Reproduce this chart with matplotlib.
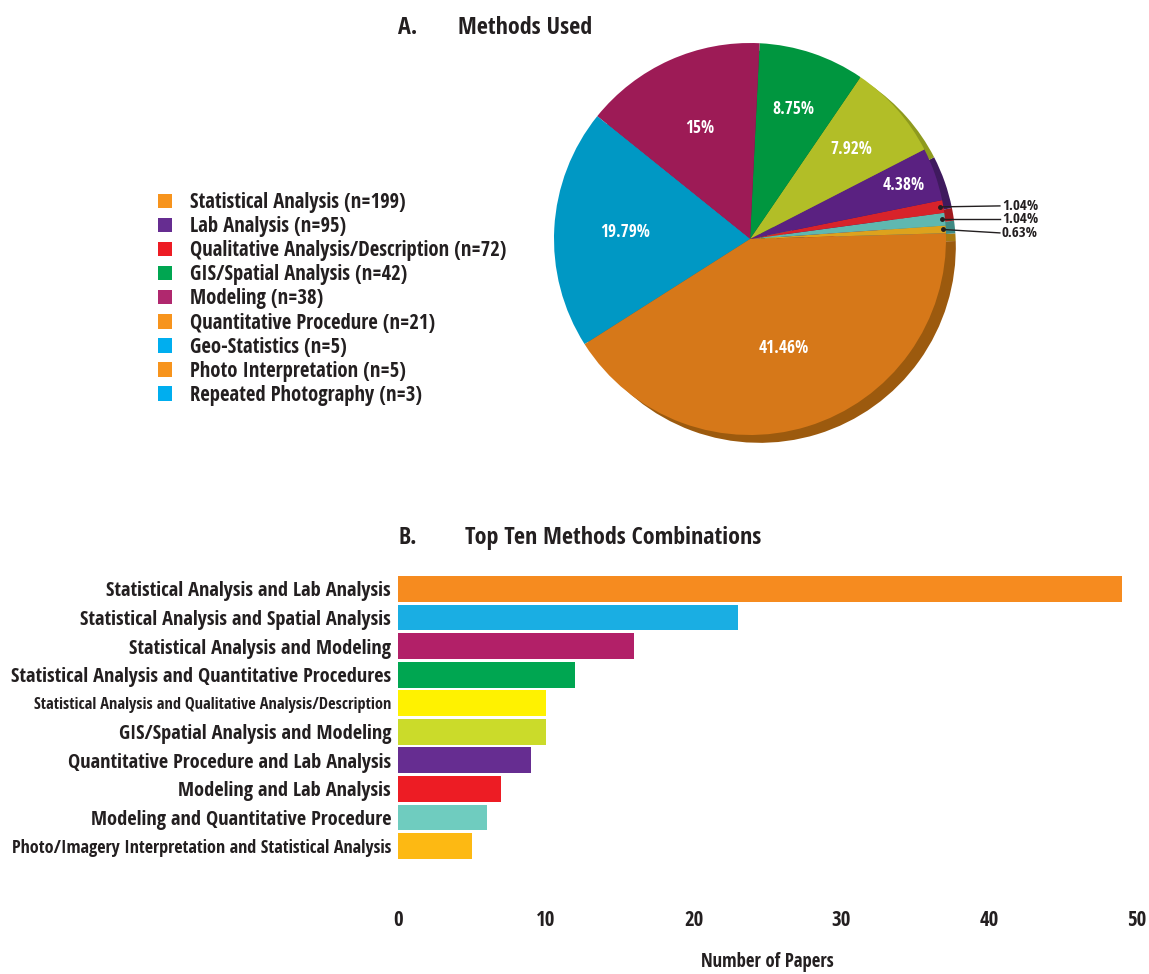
import matplotlib
matplotlib.use('Agg')
import matplotlib.pyplot as plt
from matplotlib.patches import Patch
import numpy as np

FONT = ['Open Sans Condensed', 'DejaVu Sans']
plt.rcParams['font.family'] = FONT
plt.rcParams['font.weight'] = 'bold'
TXT = '#231f20'

# ---------------- data ----------------
legend_labels = ['Statistical Analysis (n=199)', 'Lab Analysis (n=95)',
                 'Qualitative Analysis/Description (n=72)', 'GIS/Spatial Analysis (n=42)',
                 'Modeling (n=38)', 'Quantitative Procedure (n=21)', 'Geo-Statistics (n=5)',
                 'Photo Interpretation (n=5)', 'Repeated Photography (n=3)']
legend_colors = ['#f7941d', '#662d91', '#ed1c24', '#00a651', '#b0286e',
                 '#f7941d', '#00aeef', '#f7941d', '#00aeef']

pie_values = [3, 5, 5, 21, 38, 42, 72, 95, 199]
pie_pct_labels = ['0.63%', '1.04%', '1.04%', '4.38%', '7.92%', '8.75%', '15%', '19.79%', '41.46%']
pie_colors = ['#dda21d', '#5fb8b0', '#d8232a', '#5a2181', '#b2be27',
              '#00963f', '#9d1b56', '#0098c4', '#d67819']
pie_shadow_colors = ['#a87a12', '#3e8a84', '#a01a1e', '#3f1a5e', '#8e9a1e',
                     '#00662b', '#6d123c', '#006a88', '#9c5a0e']

bar_categories = ['Statistical Analysis and Lab Analysis',
                  'Statistical Analysis and Spatial Analysis',
                  'Statistical Analysis and Modeling',
                  'Statistical Analysis and Quantitative Procedures',
                  'Statistical Analysis and Qualitative Analysis/Description',
                  'GIS/Spatial Analysis and Modeling',
                  'Quantitative Procedure and Lab Analysis',
                  'Modeling and Lab Analysis',
                  'Modeling and Quantitative Procedure',
                  'Photo/Imagery Interpretation and Statistical Analysis']
bar_values = [49, 23, 16, 12, 10, 10, 9, 7, 6, 5]
bar_colors = ['#f68b1f', '#1aaee3', '#b22068', '#00a651', '#fff200',
              '#cbdb2a', '#662d91', '#ed1c24', '#6fccbf', '#fdb913']
x_ticks = [0, 10, 20, 30, 40, 50]

# ---------------- figure ----------------
W, H = 1149, 974
fig = plt.figure(figsize=(W / 100, H / 100), dpi=100)


def px_axes(x0, y0, x1, y1):
    return fig.add_axes([x0 / W, 1 - y1 / H, (x1 - x0) / W, (y1 - y0) / H])


# titles
fig.text(398 / W, 1 - 28 / H, 'A.', fontsize=17.3, color=TXT, va='center', ha='left')
fig.text(458 / W, 1 - 28 / H, 'Methods Used', fontsize=17.3, color=TXT, va='center', ha='left')
fig.text(398 / W, 1 - 538 / H, 'B.', fontsize=17.3, color=TXT, va='center', ha='left')
fig.text(465 / W, 1 - 538 / H, 'Top Ten Methods Combinations', fontsize=17.3, color=TXT,
         va='center', ha='left')

# ---------------- pie ----------------
R = 196
cx, cy = 750, 239
half = 300
axp = px_axes(cx - half, cy - half, cx + half, cy + half)
start = 1.7
axp.pie(pie_values, colors=pie_shadow_colors, startangle=start, counterclock=True,
        center=(0.05, -0.04), wedgeprops=dict(linewidth=0))
wedges, _ = axp.pie(pie_values, colors=pie_colors, startangle=start, counterclock=True,
                    wedgeprops=dict(linewidth=0))
lim = half / R
axp.set_xlim(-lim, lim)
axp.set_ylim(-lim, lim)
axp.set_aspect('equal')
axp.axis('off')

label_r = [None, None, None, 0.83, 0.69, 0.70, 0.62, 0.64, 0.58]
small = []
for w, lab, r in zip(wedges, pie_pct_labels, label_r):
    mid = np.deg2rad((w.theta1 + w.theta2) / 2)
    if r is not None:
        axp.text(r * np.cos(mid), r * np.sin(mid), lab, color='white', fontsize=12.5,
                 ha='center', va='center')
    else:
        small.append((0.985 * np.cos(mid), 0.985 * np.sin(mid), lab))

# small-slice callouts: texts stacked with even spacing around the middle one
step = 13.5 / R
mid_y = small[1][1]
for k, (px, py, lab) in enumerate(small):
    ty = mid_y + (k - 1) * step
    axp.plot([px], [py], 'o', color='#231f20', ms=2.5, clip_on=False)
    axp.plot([px, 1.275], [py, ty], color='#231f20', lw=1.0, clip_on=False)
    axp.text(1.285, ty, lab, color=TXT, fontsize=10.8, ha='left', va='center')

# ---------------- legend ----------------
handles = [Patch(facecolor=c, edgecolor='none') for c in legend_colors]
fig.legend(handles, legend_labels, loc='upper left',
           bbox_to_anchor=(158 / W, 1 - 192 / H), frameon=False, fontsize=14.9,
           handlelength=0.7, handleheight=0.7, handletextpad=0.85, labelspacing=0.15,
           labelcolor=TXT, borderaxespad=0, borderpad=0)

# ---------------- bars ----------------
axb = px_axes(398, 570, 1137, 900)
y = np.arange(len(bar_values))
axb.barh(y, bar_values, height=0.9, color=bar_colors)
axb.set_xlim(0, 50)
axb.set_ylim(len(bar_values) - 1 + 1.89, -0.665)
axb.set_xticks(x_ticks)
axb.set_xticklabels([str(t) for t in x_ticks], fontsize=15, color=TXT)
axb.set_yticks(y)
axb.set_yticklabels(bar_categories, fontsize=14.7, color=TXT)
axb.get_yticklabels()[4].set_fontsize(11.8)
axb.get_yticklabels()[9].set_fontsize(13.1)
axb.tick_params(axis='both', length=0)
axb.tick_params(axis='x', pad=7)
axb.tick_params(axis='y', pad=5)
for s in axb.spines.values():
    s.set_visible(False)
axb.set_xlabel('Number of Papers', fontsize=13.5, color=TXT, labelpad=15)

fig.savefig('out.png', dpi=100)
